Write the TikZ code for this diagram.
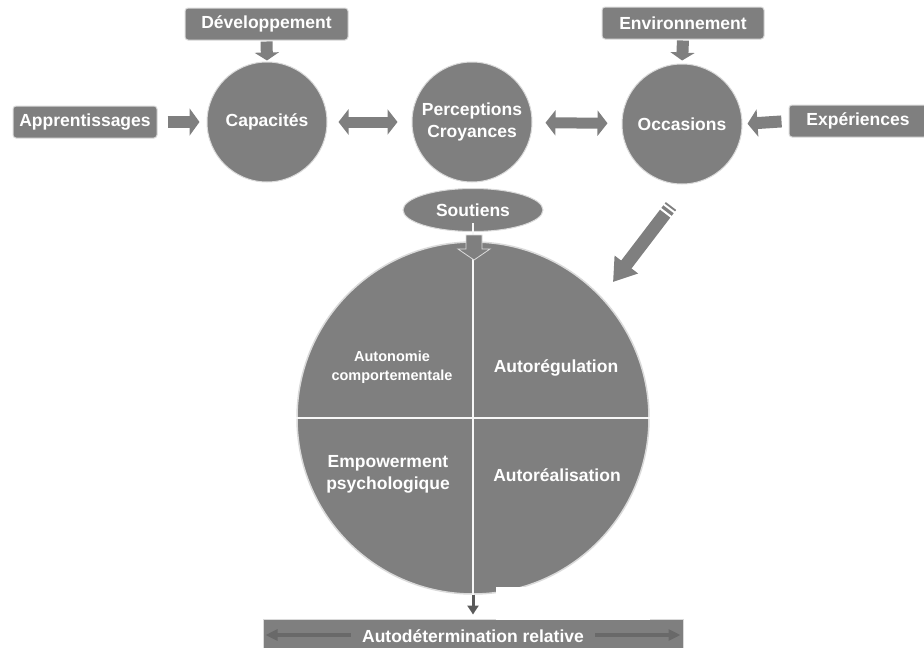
\documentclass[tikz,border=0pt]{standalone}
\usepackage{fontspec}
\setmainfont{Liberation Sans}
\usetikzlibrary{shapes.geometric,arrows.meta,calc}
\definecolor{gfill}{RGB}{127,127,127}
\definecolor{gedge}{RGB}{218,218,218}
\definecolor{gdark}{RGB}{90,90,90}
\definecolor{garrow}{RGB}{105,105,105}
\newcommand\fbig{\bfseries\fontsize{17.5}{22}\selectfont}
\newcommand\fsmall{\bfseries\fontsize{14.5}{19}\selectfont}
\begin{document}
\begin{tikzpicture}[x=1pt,y=-1pt,
  box/.style={draw=gedge, line width=1pt, fill=gfill, rounded corners=3pt, text=white, font=\fbig, inner sep=0pt, minimum height=32pt},
  circ/.style={circle, draw=gedge, line width=1pt, fill=gfill, text=white, font=\fbig, minimum size=120pt, inner sep=0pt, align=center},
  qtext/.style={text=white, font=\fbig, align=center, inner sep=0pt},
  blkh/.style={gfill, line width=12pt, -{Triangle[width=27pt,length=10pt]}},
  blkv/.style={gfill, line width=12pt, -{Triangle[width=24pt,length=8pt]}},
  dblk/.style={gfill, line width=11pt, {Triangle[width=25pt,length=10pt]}-{Triangle[width=25pt,length=10pt]}},
]
\useasboundingbox (0,0) rectangle (924,648);

% top row
\node[box, minimum width=163pt] (dev) at (266.5,24) {Développement};
\node[box, minimum width=144pt] (app) at (85,122) {Apprentissages};
\node[circ] (cap) at (267,122) {Capacités};
\node[circ] (per) at (472,122) {Perceptions\\Croyances};
\node[circ] (occ) at (682,124) {Occasions};
\node[box, minimum width=162pt] (env) at (683,23) {Environnement};
\node[box, minimum width=138pt] (exp) at (858,121) {Expériences};

\draw[blkv, shorten <=1pt, shorten >=1pt] (dev.south) -- (cap.north);
\draw[blkh, shorten <=10pt, shorten >=7pt] (app.east) -- (cap.west);
\draw[dblk, shorten <=11pt, shorten >=14pt] (cap) -- (per);
\draw[dblk, shorten <=13pt, shorten >=14pt] (per) -- (occ);
\draw[blkv, shorten <=1pt, shorten >=3pt] (env.south) -- (occ.north);
\draw[blkh, shorten <=7pt, shorten >=5pt] (exp.west) -- (occ.east);

% Soutiens
\node[ellipse, draw=gedge, line width=1pt, fill=gfill, text=white, font=\fbig, minimum width=140pt, minimum height=43pt, inner sep=0pt] (sou) at (473,210) {Soutiens};

% big circle
\node[circle, draw=gedge, line width=1.5pt, fill=gfill, minimum size=352pt, inner sep=0pt] (big) at (473,418) {};
\draw[white!94!gray, line width=2.5pt] ([yshift=18pt]big.north) -- (big.south);
\draw[white!94!gray, line width=2.5pt] (big.west) -- (big.east);

% arrow Soutiens -> big circle
\coordinate (sa) at (474,235);
\draw[gedge, fill=gfill, line width=0.8pt] ([shift={(-8,0)}]sa) -- ([shift={(8,0)}]sa) -- ([shift={(8,14)}]sa) -- ([shift={(16,14)}]sa) -- ([shift={(0,25)}]sa) -- ([shift={(-16,14)}]sa) -- ([shift={(-8,14)}]sa) -- cycle;

\node[qtext, font=\fsmall] (q1) at (392,367) {Autonomie\\comportementale};
\node[qtext] (q2) at (556,368) {Autorégulation};
\node[qtext] (q3) at (388,474) {Empowerment\\psychologique};
\node[qtext] (q4) at (557,475) {Autoréalisation};

% pencil arrow
\coordinate (pt) at (671,206);
\coordinate (ph) at (613,282);
\draw[gfill, line width=13pt, -{Triangle[width=28pt,length=22pt]}] (pt) -- (ph);
\coordinate (s1) at ($(pt)!3pt!(ph)$);
\coordinate (s2) at ($(pt)!8.5pt!(ph)$);
\draw[white, line width=2pt] ($(s1)!8pt!90:(ph)$) -- ($(s1)!8pt!-90:(ph)$);
\draw[white, line width=2pt] ($(s2)!8pt!90:(ph)$) -- ($(s2)!8pt!-90:(ph)$);

% bottom bar
\node[draw=gedge, fill=gfill, line width=1pt, minimum width=420pt, minimum height=32pt, inner sep=0pt] (bar) at (473,635) {};
\draw[garrow, line width=4pt, {Triangle[width=11pt,length=12pt]}-{Triangle[width=11pt,length=12pt]}, shorten <=3pt, shorten >=3pt] (bar.west) -- (bar.east);
\node[fill=gfill, text=white, font=\fbig, inner xsep=11pt, inner ysep=2pt] (lab) at (473,636) {Autodétermination relative};
\draw[gdark, line width=3pt, -{Triangle[width=11pt,length=9pt]}, shorten >=4pt] (big.south) -- (bar.north);

% white patch
\fill[white] (496,587) rectangle (650,620);
\end{tikzpicture}
\end{document}
